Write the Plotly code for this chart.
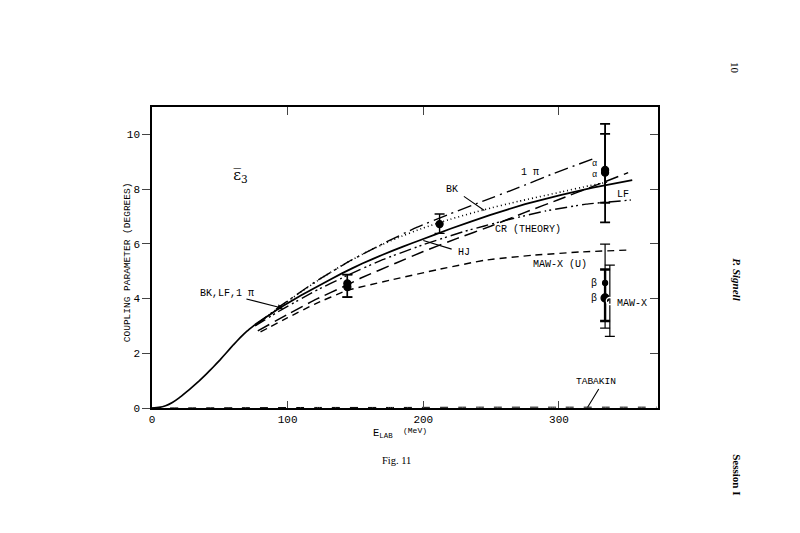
import plotly.graph_objects as go

# ---------------- data ----------------
common_x = [0, 5, 10, 15, 20, 25, 30, 35, 40, 45, 50, 55, 60, 65, 70, 76]
common_y = [0, 0.02, 0.08, 0.2, 0.37, 0.57, 0.78, 1.0, 1.24, 1.49, 1.75, 2.03, 2.31, 2.57, 2.81, 3.05]

hj_x = [76, 85, 95, 110, 125, 140, 155, 170, 185, 198, 220, 249, 275, 301, 325, 354]
hj_y = [3.05, 3.35, 3.68, 4.12, 4.52, 4.92, 5.28, 5.6, 5.9, 6.14, 6.55, 7.05, 7.45, 7.78, 8.05, 8.33]

bk_x = [76, 95, 110, 125, 139, 160, 180, 200, 220, 245, 270, 302, 322, 337]
bk_y = [3.02, 3.72, 4.25, 4.75, 5.18, 5.75, 6.2, 6.58, 6.9, 7.25, 7.55, 7.9, 8.12, 8.27]

pi_x = [76, 95, 120, 145, 170, 195, 220, 245, 270, 295, 326]
pi_y = [3.02, 3.74, 4.6, 5.35, 6.0, 6.6, 7.1, 7.58, 8.05, 8.55, 9.12]

lf_x = [76, 95, 120, 145, 170, 200, 230, 260, 290, 320, 353]
lf_y = [3.0, 3.58, 4.27, 4.87, 5.42, 5.97, 6.45, 6.85, 7.2, 7.45, 7.6]

cr_x = [78, 100, 120, 144, 154, 180, 200, 225, 250, 275, 300, 325, 351]
cr_y = [2.82, 3.42, 3.95, 4.5, 4.75, 5.3, 5.72, 6.2, 6.65, 7.15, 7.62, 8.1, 8.6]

mawu_x = [80, 100, 120, 144, 178, 210, 245, 280, 315, 350]
mawu_y = [2.78, 3.3, 3.8, 4.3, 4.7, 5.05, 5.4, 5.58, 5.7, 5.77]

tabakin_x = [0, 60, 120, 180, 240, 300, 372]
tabakin_y = [0.0, 0.01, 0.02, 0.02, 0.03, 0.03, 0.03]

# measured points: x, y, +err, -err
pts_x = [144, 144, 212]
pts_y = [4.42, 4.55, 6.72]
pts_ep = [0.45, 0.33, 0.37]
pts_em = [0.36, 0.5, 0.34]

alpha_x = [334, 334]
alpha_y = [8.6, 8.7]
alpha_ep = [1.78, 1.32]
alpha_em = [1.82, 1.2]

beta_x = [334, 334]
beta_y = [4.02, 4.57]
beta_ep = [1.04, 1.42]
beta_em = [0.84, 1.65]

mawx_x = [337.5]
mawx_y = [3.91]
mawx_ep = [1.31]
mawx_em = [1.29]

x_ticks = [0, 100, 200, 300]
y_ticks = [0, 2, 4, 6, 8, 10]

# ---------------- figure ----------------
MONO = "Liberation Mono"
SERIF = "Liberation Serif"
K = "black"
fig = go.Figure()

def line(x, y, dash, w=1.4):
    fig.add_trace(go.Scatter(x=x, y=y, mode="lines", showlegend=False, hoverinfo="skip",
                             line=dict(color=K, width=w, dash=dash, shape="spline", smoothing=0.3)))

line(common_x, common_y, "solid", 1.7)
line(hj_x, hj_y, "solid", 1.8)
line(bk_x, bk_y, "1px,3px", 1.6)
line(pi_x, pi_y, "14px,5px,2px,5px", 1.4)
line(lf_x, lf_y, "12px,4px,2px,3px,2px,4px", 1.4)
line(cr_x, cr_y, "13px,6px", 1.5)
line(mawu_x, mawu_y, "7px,5px", 1.4)
line(tabakin_x, tabakin_y, "8px,10px", 1.0)

def points(x, y, ep, em, symbol, size, thick):
    fig.add_trace(go.Scatter(
        x=x, y=y, mode="markers", showlegend=False, hoverinfo="skip",
        marker=dict(symbol=symbol, size=size, color="white" if "open" in symbol else K,
                    line=dict(color=K, width=1.3)),
        error_y=dict(type="data", symmetric=False, array=ep, arrayminus=em,
                     color=K, thickness=thick, width=5)))

points(pts_x, pts_y, pts_ep, pts_em, "circle", 7, 1.4)
points(alpha_x, alpha_y, alpha_ep, alpha_em, "circle", 7, 1.8)
points(beta_x[:1], beta_y[:1], beta_ep[:1], beta_em[:1], "circle", 8, 2.4)
points(beta_x[1:], beta_y[1:], beta_ep[1:], beta_em[1:], "circle", 5, 1.2)
points(mawx_x, mawx_y, mawx_ep, mawx_em, "circle-open", 7, 1.2)

# invisible trace for the top/right frame axes
fig.add_trace(go.Scatter(x=[0], y=[0], xaxis="x2", yaxis="y2", mode="markers",
                         marker=dict(opacity=0), showlegend=False, hoverinfo="skip"))

# page body has an 8px margin, so the figure is 8px smaller and shifted
fig.update_layout(
    width=792, height=525,
    margin=dict(l=144, r=142, t=99, b=125),
    paper_bgcolor="white", plot_bgcolor="white",
    font=dict(family=MONO, size=11, color=K),
    xaxis=dict(range=[0, 373], tickvals=x_ticks, ticks="inside", ticklen=7, tickwidth=1.3,
               showline=True, linewidth=1.5, linecolor=K, showgrid=False, zeroline=False,
               tickfont=dict(family=MONO, size=11)),
    yaxis=dict(range=[0, 11], tickvals=y_ticks, ticks="outside", ticklen=8, tickwidth=1.3,
               showline=True, linewidth=1.5, linecolor=K, showgrid=False, zeroline=False,
               tickfont=dict(family=MONO, size=11)),
    xaxis2=dict(range=[0, 373], overlaying="x", side="top", tickvals=x_ticks[1:],
                ticks="inside", ticklen=8, tickwidth=1.3, showticklabels=False,
                showline=True, linewidth=1.5, linecolor=K, showgrid=False, zeroline=False),
    yaxis2=dict(range=[0, 11], overlaying="y", side="right", tickvals=y_ticks[1:],
                ticks="inside", ticklen=8, tickwidth=1.3, showticklabels=False,
                showline=True, linewidth=1.5, linecolor=K, showgrid=False, zeroline=False),
)

def txt(x, y, s, size=10, angle=0, family=MONO, xanchor="center"):
    fig.add_annotation(x=x, y=y, xref="x", yref="y", text=s, showarrow=False,
                       textangle=angle, xanchor=xanchor, yanchor="middle",
                       font=dict(family=family, size=size, color=K))

def ptxt(x, y, s, size=10, angle=0, family=MONO):
    fig.add_annotation(x=x, y=y, xref="paper", yref="paper", text=s, showarrow=False,
                       textangle=angle, xanchor="center", yanchor="middle",
                       font=dict(family=family, size=size, color=K))

def arrow(x0, y0, x1, y1, head=0):
    fig.add_annotation(x=x1, y=y1, ax=x0, ay=y0, xref="x", yref="y", axref="x", ayref="y",
                       text="", showarrow=True, arrowhead=head, arrowsize=1, arrowwidth=1.1,
                       arrowcolor=K, standoff=0, startstandoff=0)

txt(65, 8.5, "ε\u0305<sub>3</sub>", size=15, family="DejaVu Serif")
txt(279, 8.61, "1 π", 10)
txt(221.5, 7.99, "BK", 10)
txt(347, 7.82, "LF", 10)
txt(277.5, 6.52, "CR (THEORY)", 10)
txt(230, 5.68, "HJ", 10)
txt(301, 5.24, "MAW-X (U)", 10)
txt(326.5, 8.9, "α", 8.5)
txt(326.5, 8.52, "α", 8.5)
txt(325.7, 4.56, "β", 10)
txt(325.7, 4.01, "β", 10)
txt(341.5, 3.83, "MAW-X", 10, xanchor="left")
txt(327, 0.97, "TABAKIN", 9.5)
txt(55, 4.2, "BK,LF,1 π", 10)

arrow(68.5, 4.0, 96.7, 3.64, head=2)
arrow(228.8, 7.77, 245, 7.22)
arrow(222, 5.79, 200, 6.12)
arrow(330, 0.75, 321, 0.02)

# axis titles and caption (paper coordinates)
ptxt(-0.049, 0.485, "COUPLING PARAMETER (DEGREES)", 9.5, angle=-90)
ptxt(0.457, -0.084, "E<sub>LAB</sub>", 10.5)
ptxt(0.519, -0.076, "(MeV)", 8)
ptxt(0.484, -0.173, "Fig. 11", 10.5, family=SERIF)

# page furniture on the right margin
ptxt(1.152, 1.13, "10", 11, angle=90, family=SERIF)
ptxt(1.156, 0.425, "<b><i>P. Signell</i></b>", 11, angle=90, family=SERIF)
ptxt(1.156, -0.223, "<b>Session I</b>", 11, angle=90, family=SERIF)

fig.write_html("out.html")
